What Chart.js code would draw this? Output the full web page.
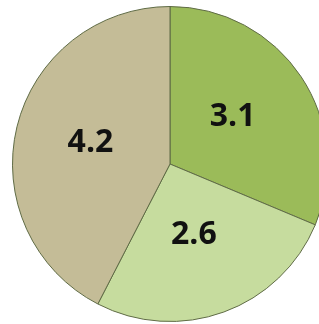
<!DOCTYPE html>
<html>
<head>
<meta charset="utf-8">
<script src="https://cdn.jsdelivr.net/npm/chart.js@4"></script>
<style>
    html, body { margin: 0; padding: 0; background: #fff; overflow: hidden; }
    #wrap { width: 330px; height: 324px; position: relative; }
</style>
</head>
<body>
<div id="wrap"><canvas id="chart"></canvas></div>
<script>
const labels = ['A', 'B', 'C']
const values = [3.1, 2.6, 4.2]
const colors = ['#9bbb59', '#c6dc9e', '#c4bc97']

// Escreve o valor no meio de cada fatia
const valueLabels = {
    id: 'valueLabels',
    afterDatasetsDraw(chart) {
        const ctx = chart.ctx
        const meta = chart.getDatasetMeta(0)
        ctx.save()
        ctx.font = 'bold 32px "Open Sans"'
        ctx.fillStyle = '#111'
        ctx.textAlign = 'center'
        ctx.textBaseline = 'middle'
        meta.data.forEach((arc, i) => {
            const p = arc.getCenterPoint()
            ctx.fillText(values[i].toFixed(1), p.x - 3, p.y - 3)
        })
        ctx.restore()
    }
}

new Chart(document.getElementById('chart'), {
    type: 'pie',
    data: {
        labels: labels,
        datasets: [{
            data: values,
            backgroundColor: colors,
            borderColor: '#5f6b45',
            borderWidth: 1
        }]
    },
    options: {
        responsive: true,
        maintainAspectRatio: false,
        animation: false,
        layout: { padding: { left: 12, right: 2, top: 6, bottom: 2 } },
        plugins: {
            legend: { display: false },
            tooltip: { enabled: false }
        }
    },
    plugins: [valueLabels]
})
</script>
</body>
</html>
